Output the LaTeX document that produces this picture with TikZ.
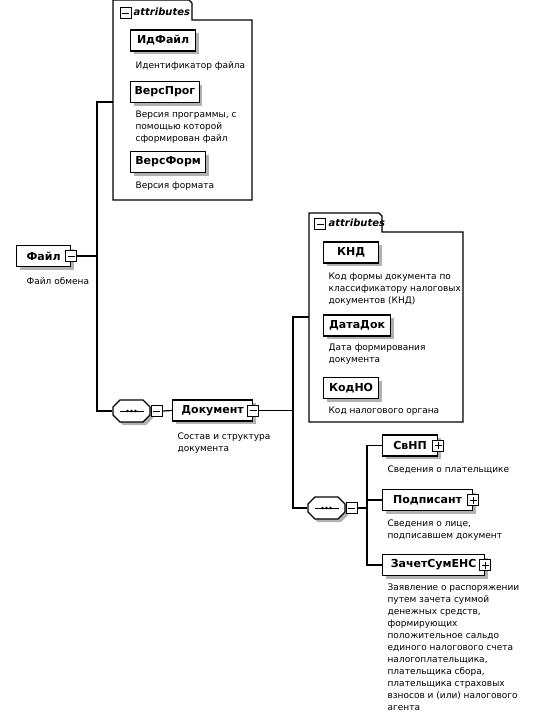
\documentclass[tikz,border=0pt]{standalone}
\usepackage{fontspec}
\setmainfont{DejaVu Sans}
\usetikzlibrary{shadows}
\tikzset{
  elem/.style={draw,line width=1.2pt,fill=white,anchor=west,minimum height=21pt,inner xsep=4pt,
    font=\fontsize{11}{13}\selectfont\bfseries,
    drop shadow={shadow xshift=3pt,shadow yshift=-3pt,fill=gray!60,opacity=1}},
  desc/.style={anchor=north west,inner sep=0pt,align=left,font=\fontsize{9}{12}\selectfont},
  minusbox/.style={draw,line width=1pt,fill=white,minimum size=11pt,inner sep=0pt,
    path picture={\draw[line width=1pt] ([xshift=2pt]path picture bounding box.west) -- ([xshift=-2pt]path picture bounding box.east);}},
  plusbox/.style={draw,line width=1pt,fill=white,minimum size=11pt,inner sep=0pt,
    path picture={\draw[line width=1pt] ([xshift=2pt]path picture bounding box.west) -- ([xshift=-2pt]path picture bounding box.east);
      \draw[line width=1pt] ([yshift=2pt]path picture bounding box.south) -- ([yshift=-2pt]path picture bounding box.north);}},
  seq/.style={rectangle,minimum width=37pt,minimum height=22pt,inner sep=0pt},
  seqpic/.pic={
    \fill[gray!60,shift={(3,3)}] (-11.5,-11) -- (11.5,-11) -- (18.5,-4) -- (18.5,4) -- (11.5,11) -- (-11.5,11) -- (-18.5,4) -- (-18.5,-4) -- cycle;
    \draw[fill=white,line width=1.2pt] (-11.5,-11) -- (11.5,-11) -- (18.5,-4) -- (18.5,4) -- (11.5,11) -- (-11.5,11) -- (-18.5,4) -- (-18.5,-4) -- cycle;
    \draw[line width=1pt] (-12,0) -- (12,0);
    \foreach \d in {-4,0,4}
      \fill (\d,0) circle (1.4);
  },
  frame/.style={line width=1.2pt},
  tabtext/.style={anchor=west,inner sep=0pt,font=\fontsize{10}{12}\selectfont\bfseries\itshape},
}
\begin{document}
\begin{tikzpicture}[x=1pt,y=-1pt,line width=1.2pt]
\fill[white] (0,0) rectangle (538,716);
\useasboundingbox (0,0) rectangle (538,716);

% attributes of Файл
\draw[frame] (113,200) -- (113,0) -- (189,0) -- (192,3) -- (192,20) -- (252,20) -- (252,200) -- cycle;
\coordinate (attr1) at (113,102);
\node[minusbox] (attr1m) at (125.5,13) {};
\node[tabtext] (attr1t) at (133,12) {attributes};
\node[elem,minimum width=65pt] (idfile) at (130,40.5) {ИдФайл};
\node[desc] (idfiled) at (135,61) {Идентификатор файла};
\node[elem,minimum width=68pt] (versprog) at (130,92) {ВерсПрог};
\node[desc] (versprogd) at (135,110) {Версия программы, с\\помощью которой\\сформирован файл};
\node[elem,minimum width=75pt] (versform) at (130,162) {ВерсФорм};
\node[desc] (versformd) at (135,181) {Версия формата};

% root
\node[elem,minimum width=54pt] (file) at (16,256) {Файл};
\node[minusbox] (filem) at (file.east) {};
\node[desc] (filed) at (26,277) {Файл обмена};

% sequence 1
\node[seq] (seq1) at (131.5,411) {};
\pic at (seq1) {seqpic};
\node[minusbox,anchor=west] (seq1m) at (seq1.east) {};

\node[elem,minimum width=80pt] (dok) at (172,410.5) {Документ};
\node[minusbox] (dokm) at (dok.east) {};
\node[desc] (dokd) at (177,432) {Состав и структура\\документа};

% attributes of Документ
\draw[frame] (309,422) -- (309,213) -- (379,213) -- (382,216) -- (382,232) -- (463,232) -- (463,422) -- cycle;
\coordinate (attr2) at (309,317);
\node[minusbox] (attr2m) at (320,224) {};
\node[tabtext] (attr2t) at (328,223) {attributes};
\node[elem,minimum width=55pt] (knd) at (323,252.5) {КНД};
\node[desc] (kndd) at (328,272) {Код формы документа по\\классификатору налоговых\\документов (КНД)};
\node[elem,minimum width=67pt] (datadok) at (323,325.5) {ДатаДок};
\node[desc] (datadokd) at (328,343) {Дата формирования\\документа};
\node[elem,minimum width=55pt] (kodno) at (323,388) {КодНО};
\node[desc] (kodnod) at (328,406) {Код налогового органа};

% sequence 2
\node[seq] (seq2) at (326.5,508) {};
\pic at (seq2) {seqpic};
\node[minusbox,anchor=west] (seq2m) at (seq2.east) {};

\node[elem,minimum width=55pt] (svnp) at (382,445.5) {СвНП};
\node[plusbox] (svnpp) at (svnp.east) {};
\node[desc] (svnpd) at (387,465) {Сведения о плательщике};
\node[elem,minimum width=90pt] (podp) at (382,500) {Подписант};
\node[plusbox] (podpp) at (podp.east) {};
\node[desc] (podpd) at (387,519) {Сведения о лице,\\подписавшем документ};
\node[elem,minimum width=102pt] (zachet) at (382,565) {ЗачетСумЕНС};
\node[plusbox] (zachetp) at (zachet.east) {};
\node[desc] (zachetd) at (387,583) {Заявление о распоряжении\\путем зачета суммой\\денежных средств,\\формирующих\\положительное сальдо\\единого налогового счета\\налогоплательщика,\\плательщика сбора,\\плательщика страховых\\взносов и (или) налогового\\агента};

% connectors
\coordinate (bus1) at (97,256);
\draw (filem.east) -- (bus1);
\draw (attr1) -| (bus1) |- (seq1.west);
\draw (seq1m.east) -- (dok.west);
\coordinate (bus2) at (293,410.5);
\draw (dokm.east) -- (bus2);
\draw (attr2) -| (bus2) |- (seq2.west);
\coordinate (bus3) at (367,508);
\draw (seq2m.east) -- (bus3);
\draw (svnp.west) -| (bus3) |- (zachet.west);
\draw (podp.west) -| (bus3);
\end{tikzpicture}
\end{document}
